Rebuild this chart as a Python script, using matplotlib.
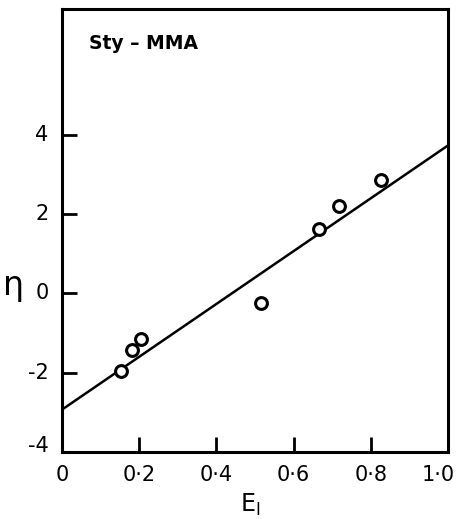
import numpy as np
import matplotlib.pyplot as plt

# data
e1 = [0.153, 0.181, 0.205, 0.516, 0.666, 0.718, 0.826]
eta = [-1.97, -1.44, -1.16, -0.25, 1.61, 2.19, 2.85]

fit_x = [0.0, 1.0]
fit_y = [-2.93, 3.73]

xticks = [0, 0.2, 0.4, 0.6, 0.8, 1.0]
xticklabels = ['0', '0·2', '0·4', '0·6', '0·8', '1·0']
yticks = [-4, -2, 0, 2, 4]
yticklabels = ['-4', '-2', '0', '2', '4']

plt.rcParams['font.family'] = ['DejaVu Sans']

fig = plt.figure(figsize=(4.63, 5.19), dpi=100)
ax = fig.add_axes([0.134, 0.129, 0.834, 0.854])

ax.plot(fit_x, fit_y, color='black', lw=1.8, clip_on=True)
ax.plot(e1, eta, linestyle='none', marker='o', markersize=8.5,
        markerfacecolor='white', markeredgecolor='black', markeredgewidth=2.2)

ax.set_xlim(0, 1.0)
ax.set_ylim(-4, 7.17)

for s in ax.spines.values():
    s.set_linewidth(2.2)

ax.set_xticks([0.2, 0.4, 0.6, 0.8])
ax.set_yticks([-2, 0, 2, 4])
ax.tick_params(direction='in', length=11, width=2, labelbottom=False, labelleft=False)

for x, lab in zip(xticks, xticklabels):
    # last label sits against the right edge of the page
    ax.text(min(x, 0.975), -4.32, lab, ha='center', va='top', fontsize=15)
for y, lab in zip(yticks, yticklabels):
    ax.text(-0.035, y + (0.15 if y == -4 else 0), lab, ha='right', va='center', fontsize=15)

ax.text(0.07, 6.3, 'Sty – MMA', fontsize=13.5, fontweight='bold', ha='left', va='center')

fig.text(0.03, 0.45, 'η', fontsize=24, ha='center', va='center')
fig.text(0.54, 0.028, 'E$_\\mathregular{I}$', fontsize=17, ha='center', va='center')

fig.savefig('out.png', dpi=100)
